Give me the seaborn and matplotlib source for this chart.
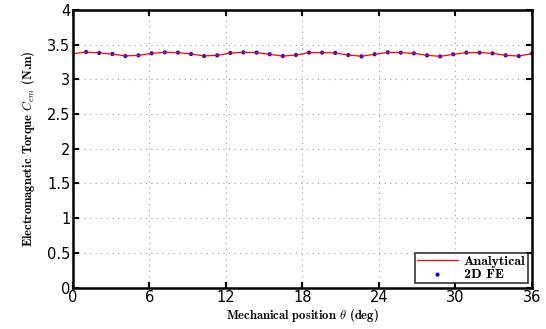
import numpy as np
import pandas as pd
import matplotlib.pyplot as plt
import seaborn as sns

# mechanical position (deg) and torque (N.m)
theta = [0.0, 1.03, 2.06, 3.09, 4.11, 5.14, 6.17, 7.2, 8.23, 9.26, 10.29, 11.31,
         12.34, 13.37, 14.4, 15.43, 16.46, 17.49, 18.51, 19.54, 20.57, 21.6, 22.63,
         23.66, 24.69, 25.71, 26.74, 27.77, 28.8, 29.83, 30.86, 31.89, 32.91, 33.94,
         34.97, 36.0]
torque_an = [3.369, 3.391, 3.380, 3.362, 3.337, 3.344, 3.373, 3.389, 3.384, 3.364,
             3.336, 3.345, 3.378, 3.389, 3.384, 3.360, 3.334, 3.350, 3.383, 3.386,
             3.378, 3.350, 3.332, 3.360, 3.388, 3.384, 3.374, 3.345, 3.331, 3.360,
             3.384, 3.385, 3.374, 3.345, 3.335, 3.369]
torque_fe = [3.369, 3.393, 3.379, 3.364, 3.335, 3.345, 3.374, 3.388, 3.384, 3.364,
             3.335, 3.345, 3.379, 3.388, 3.384, 3.360, 3.335, 3.350, 3.384, 3.384,
             3.379, 3.350, 3.330, 3.360, 3.388, 3.384, 3.374, 3.345, 3.330, 3.360,
             3.384, 3.384, 3.374, 3.345, 3.335, 3.369]

df = pd.DataFrame({"theta": theta, "an": torque_an, "fe": torque_fe})

sns.set_style("ticks", {"axes.edgecolor": "black", "xtick.color": "black",
                        "ytick.color": "black", "text.color": "black",
                        "axes.labelcolor": "black"})
plt.rcParams["mathtext.fontset"] = "cm"
plt.rcParams["font.family"] = ["DejaVu Sans"]

fig = plt.figure(figsize=(5.46, 3.29), dpi=100)
ax = fig.add_axes([0.1337, 0.126, 0.8405, 0.844])

sns.lineplot(data=df, x="theta", y="an", color="red", lw=0.9, ax=ax, label="Analytical")
sns.scatterplot(data=df, x="theta", y="fe", color="blue", s=9, edgecolor="none",
                marker="o", ax=ax, label="2D FE")

ax.set_xlim(0, 36)
ax.set_ylim(0, 4)
ax.set_xticks([0, 6, 12, 18, 24, 30, 36])
ax.set_yticks(np.arange(0, 4.01, 0.5))
ax.set_yticklabels(["0", "0.5", "1", "1.5", "2", "2.5", "3", "3.5", "4"])
ax.grid(True, ls=(0, (1, 4)), color="#999999", lw=0.8)
ax.tick_params(direction="in", top=True, right=True, labelsize=10.5, length=4, width=1.5,
               pad=2, colors="black")
for s in ax.spines.values():
    s.set_linewidth(1.8)
    s.set_visible(True)
    s.set_color("black")

ax.set_xlabel(r"Mechanical position $\theta$ (deg)", fontfamily="cmb10", fontsize=9, labelpad=1)
ax.set_ylabel(r"Electromagnetic Torque $C_{em}$ (N.m)", fontfamily="cmb10", fontsize=9, labelpad=7)

leg = ax.legend(loc="lower right", prop={"family": "cmb10", "size": 10}, frameon=True,
                fancybox=False, edgecolor="black", borderpad=0.15, labelspacing=0.05,
                handlelength=3, handletextpad=0.4, borderaxespad=0.3, markerscale=1)
leg.get_frame().set_linewidth(1.2)

fig.savefig("out.png", dpi=100)
